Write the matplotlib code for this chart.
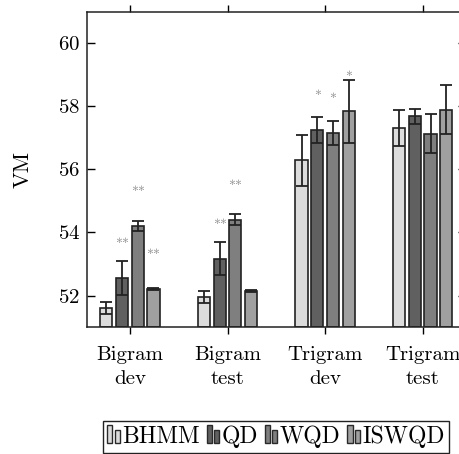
import numpy as np
import matplotlib
matplotlib.use("Agg")
import matplotlib.pyplot as plt
from matplotlib.legend_handler import HandlerBase
from matplotlib.patches import Rectangle

plt.rcParams['font.family'] = 'serif'
plt.rcParams['font.serif'] = ['cmr10']
plt.rcParams['mathtext.fontset'] = 'cm'
plt.rcParams['axes.formatter.use_mathtext'] = True

# данные
groups = ['Bigram\ndev', 'Bigram\ntest', 'Trigram\ndev', 'Trigram\ntest']
methods = ['BHMM', 'QD', 'WQD', 'ISWQD']
colors = ['#dcdcdc', '#606060', '#7f7f7f', '#a0a0a0']

bhmm = [51.60, 51.95, 56.29, 57.31]
qd = [52.56, 53.17, 57.26, 57.69]
wqd = [54.20, 54.41, 57.15, 57.13]
iswqd = [52.21, 52.13, 57.85, 57.90]

bhmm_err = [0.20, 0.18, 0.80, 0.57]
qd_err = [0.53, 0.52, 0.42, 0.24]
wqd_err = [0.16, 0.17, 0.38, 0.62]
iswqd_err = [0.04, 0.03, 1.00, 0.78]

# значимость: (группа, метод, метка, высота)
star_group = [0, 0, 0, 1, 1, 2, 2, 2]
star_method = [1, 2, 3, 1, 2, 1, 2, 3]
star_text = ['**', '**', '**', '**', '**', '*', '*', '*']
star_y = [53.71, 55.37, 53.37, 54.33, 55.57, 58.42, 58.32, 59.02]

values = [bhmm, qd, wqd, iswqd]
errors = [bhmm_err, qd_err, wqd_err, iswqd_err]
FS = 15
LFS = 17


class TwoBars(HandlerBase):
    def create_artists(self, legend, orig_handle, xdescent, ydescent,
                       width, height, fontsize, trans):
        fc = orig_handle.get_facecolor()
        w = fontsize * 0.22
        x0 = -xdescent
        r1 = Rectangle((x0, -ydescent), w, fontsize * 0.77,
                       facecolor=fc, edgecolor='#2a2a2a', lw=1.0, transform=trans)
        r2 = Rectangle((x0 + w + fontsize * 0.09, -ydescent), w, fontsize * 0.55,
                       facecolor=fc, edgecolor='#2a2a2a', lw=1.0, transform=trans)
        return [r1, r2]


fig = plt.figure(figsize=(4.59, 4.54), dpi=100)
ax = fig.add_axes([0.1895, 0.2797, 0.825, 0.694])

x = np.arange(len(groups))
step = 0.161
width = 0.125
handles = []
for i, m in enumerate(methods):
    pos = x + (i - 1.5) * step
    b = ax.bar(pos, np.array(values[i]) - 51, width, bottom=51, color=colors[i],
               edgecolor='#222222', linewidth=1.2, label=m, zorder=2)
    ax.errorbar(pos, values[i], yerr=errors[i], fmt='none', ecolor='#222222',
                elinewidth=1.3, capsize=4.5, capthick=1.3, zorder=3)
    handles.append(b.patches[0])

for g, m, t, yy in zip(star_group, star_method, star_text, star_y):
    ax.annotate(t, (g + (m - 1.5) * step, yy), xytext=(0, -2.5),
                textcoords='offset points', ha='center', va='center',
                fontsize=10, color='#8a8a8a')

ax.set_xlim(-0.44, 3.44)
ax.set_ylim(51, 61)
ax.set_xticks(x)
ax.set_xticklabels(groups, fontsize=FS, linespacing=1.4)
ax.set_yticks([52, 54, 56, 58, 60])
ax.tick_params(axis='y', direction='in', length=6, width=1, right=True,
               labelsize=FS, pad=5)
ax.tick_params(axis='x', direction='out', length=5, width=1, top=True, pad=9)
ax.set_ylabel('VM', fontsize=16, labelpad=18)
for s in ax.spines.values():
    s.set_linewidth(1.1)
    s.set_color('#222222')

leg = fig.legend(handles, methods, loc='center', bbox_to_anchor=(0.601, 0.0375),
                 ncol=4, fontsize=LFS, handler_map={Rectangle: TwoBars()},
                 handlelength=0.52, handletextpad=0.1, columnspacing=0.3,
                 borderpad=0.2, borderaxespad=0, fancybox=False,
                 edgecolor='#222222', framealpha=1)
leg.get_frame().set_linewidth(1.0)

fig.savefig('out.png', dpi=100)
